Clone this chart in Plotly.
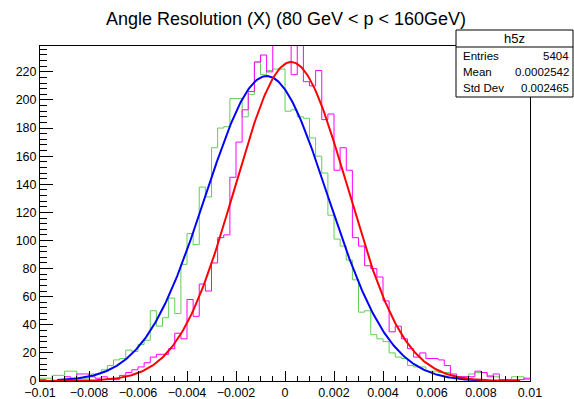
import numpy as np
import plotly.graph_objects as go

# ---- data ----
x_min, x_max, n_bins = -0.01, 0.01, 80

green_counts = [
    2, 2, 4, 4, 7, 7, 2, 2, 5, 5,
    8, 11, 15, 16, 22, 21, 26, 29, 50, 39,
    45, 59, 48, 83, 105, 97, 138, 131, 166, 180,
    181, 201, 201, 188, 204, 227, 218, 221, 222, 222,
    192, 193, 188, 187, 173, 160, 148, 118, 101, 96,
    86, 72, 49, 50, 33, 30, 28, 20, 17, 16,
    11, 10, 10, 7, 7, 6, 6, 4, 3, 3,
    5, 6, 6, 4, 3, 1, 1, 3, 3, 1,
]
magenta_counts = [
    1, 0, 0, 1, 3, 2, 5, 5, 3, 2,
    3, 1, 1, 4, 6, 8, 10, 13, 17, 19,
    19, 23, 34, 30, 58, 46, 69, 64, 84, 102,
    104, 145, 170, 193, 206, 227, 232, 220, 245, 250,
    242, 218, 241, 213, 210, 221, 186, 190, 150, 166,
    150, 102, 96, 82, 80, 74, 57, 35, 39, 30,
    23, 17, 20, 16, 16, 15, 11, 5, 3, 3,
    3, 7, 6, 3, 5, 1, 1, 1, 1, 2,
]

# Gaussian fit parameters: (constant, mean, sigma, draw range)
blue_fit = dict(const=217.0, mean=-0.00075, sigma=0.0025, lo=-0.0093, hi=0.0080)
red_fit = dict(const=227.0, mean=0.00025, sigma=0.0023, lo=-0.0100, hi=0.0096)

x_tickvals = [-0.01, -0.008, -0.006, -0.004, -0.002, 0, 0.002, 0.004, 0.006, 0.008, 0.01]
x_ticktext = ["\u22120.01", "\u22120.008", "\u22120.006", "\u22120.004", "\u22120.002", "0",
              "0.002", "0.004", "0.006", "0.008", "0.01"]
y_tickvals = [0, 20, 40, 60, 80, 100, 120, 140, 160, 180, 200, 220]
y_max = 238.4

title_text = "Angle Resolution (X) (80 GeV < p < 160GeV)"
stats_name = "h5z"
stats_labels = ["Entries", "Mean", "Std Dev"]
stats_values = ["5404", "0.0002542", "0.002465"]

# ---- figure ----
edges = np.linspace(x_min, x_max, n_bins + 1)


def step(counts):
    c = list(counts)
    return list(edges), c + [c[-1]]


def gauss(p):
    xs = np.linspace(p["lo"], p["hi"], 400)
    return xs, p["const"] * np.exp(-0.5 * ((xs - p["mean"]) / p["sigma"]) ** 2)


fig = go.Figure()
gx, gy = step(green_counts)
fig.add_trace(go.Scatter(x=gx, y=gy, mode="lines", line=dict(color="rgb(96,208,88)", width=1, shape="hv"),
                         hoverinfo="skip"))
mx, my = step(magenta_counts)
fig.add_trace(go.Scatter(x=mx, y=my, mode="lines", line=dict(color="rgb(255,0,255)", width=1, shape="hv"),
                         hoverinfo="skip"))
bx, by = gauss(blue_fit)
fig.add_trace(go.Scatter(x=bx, y=by, mode="lines", line=dict(color="rgb(0,0,255)", width=2), hoverinfo="skip"))
rx, ry = gauss(red_fit)
fig.add_trace(go.Scatter(x=rx, y=ry, mode="lines", line=dict(color="rgb(255,0,0)", width=2), hoverinfo="skip"))

FONT = "Liberation Sans, Arial, sans-serif"
L, R, T, B = 40, 44, 46, 18
W, H = 574, 399
pw, ph = W - L - R, H - T - B


def px2paper(px, py):
    return (px - L) / pw, (H - B - py) / ph


fig.update_layout(
    width=W, height=H,
    margin=dict(l=L, r=R, t=T, b=B, pad=0, autoexpand=False),
    paper_bgcolor="white", plot_bgcolor="white",
    showlegend=False,
    font=dict(family=FONT, color="black", size=12.5),
    title=dict(text=title_text, x=286 / W, xanchor="center", y=1 - 19 / H, yanchor="middle",
               yref="container", xref="container", font=dict(family=FONT, size=18, color="black")),
    xaxis=dict(range=[x_min, x_max], tickmode="array", tickvals=x_tickvals, ticktext=x_ticktext,
               ticks="inside", ticklen=10, tickwidth=1, tickcolor="black", automargin=False,
               showline=True, linecolor="black", linewidth=1, mirror=True,
               showgrid=False, zeroline=False,
               minor=dict(tickmode="linear", tick0=x_min, dtick=0.0005, ticks="inside", ticklen=5,
                          tickcolor="black", tickwidth=1, showgrid=False),
               tickfont=dict(size=12.5)),
    yaxis=dict(range=[0, y_max], tickmode="array", tickvals=y_tickvals,
               ticktext=[str(v) for v in y_tickvals], automargin=False,
               ticks="inside", ticklen=13, tickwidth=1, tickcolor="black",
               showline=True, linecolor="black", linewidth=1, mirror=True,
               showgrid=False, zeroline=False,
               minor=dict(tickmode="linear", tick0=0, dtick=4, ticks="inside", ticklen=7,
                          tickcolor="black", tickwidth=1, showgrid=False),
               tickfont=dict(size=12.5)),
)

# stats box
bx0, bx1 = 456, 573
by_top, by_sep, by_bot = 30, 47, 97
x0p, y0p = px2paper(bx0, by_bot)
x1p, y1p = px2paper(bx1, by_top)
_, ysep = px2paper(0, by_sep)
fig.add_shape(type="rect", xref="paper", yref="paper", x0=x0p, x1=x1p, y0=y0p, y1=y1p,
              line=dict(color="black", width=1), fillcolor="white", layer="above")
fig.add_shape(type="line", xref="paper", yref="paper", x0=x0p, x1=x1p, y0=ysep, y1=ysep,
              line=dict(color="black", width=1), layer="above")
hx, hy = px2paper((bx0 + bx1) / 2, (by_top + by_sep) / 2)
fig.add_annotation(text=stats_name, xref="paper", yref="paper", x=hx, y=hy, showarrow=False,
                   xanchor="center", yanchor="middle", font=dict(family=FONT, size=13))
row_y = [56, 72, 88]
for lab, val, ry_ in zip(stats_labels, stats_values, row_y):
    lx, ly = px2paper(bx0 + 5, ry_)
    vx, _ = px2paper(bx1 - 2, ry_)
    fig.add_annotation(text=lab, xref="paper", yref="paper", x=lx, y=ly, showarrow=False,
                       xanchor="left", yanchor="middle", font=dict(family=FONT, size=11.5))
    fig.add_annotation(text=val, xref="paper", yref="paper", x=vx, y=ly, showarrow=False,
                       xanchor="right", yanchor="middle", font=dict(family=FONT, size=11.5))

fig.write_html("out.html")
